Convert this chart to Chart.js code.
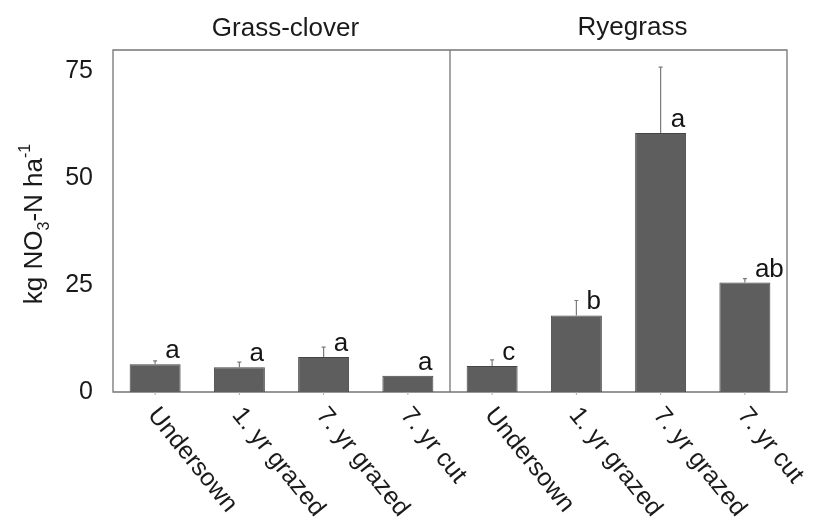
<!DOCTYPE html>
<html>
<head>
<meta charset="utf-8">
<script src="https://cdn.jsdelivr.net/npm/chart.js@4/dist/chart.umd.min.js"></script>
<style>
  html, body { margin: 0; padding: 0; background: #fff; }
  #wrap { width: 816px; height: 526px; }
</style>
</head>
<body>
<div id="wrap"><canvas id="c" width="816" height="526"></canvas></div>
<script>
// Treatments, shown once per sward type
const treatments = ['Undersown', '1. yr grazed', '7. yr grazed', '7. yr cut'];
const panels = ['Grass-clover', 'Ryegrass'];

// Mean nitrate-N (kg NO3-N per ha) and standard errors
const grassClover = [6.5, 5.8, 8.2, 3.8];
const grassCloverErr = [0.8, 1.2, 2.3, 0];
const ryegrass = [6.1, 17.9, 60.6, 25.6];
const ryegrassErr = [1.4, 3.5, 15.4, 0.9];

// Significance letters
const grassCloverLetters = ['a', 'a', 'a', 'a'];
const ryegrassLetters = ['c', 'b', 'a', 'ab'];

// Y axis ticks
const yTicks = [0, 25, 50, 75];

const labels = treatments.concat(treatments);
const values = grassClover.concat(ryegrass);
const errors = grassCloverErr.concat(ryegrassErr);
const letters = grassCloverLetters.concat(ryegrassLetters);

const FONT = '"Liberation Sans", Arial, Helvetica, sans-serif';
const frameColor = '#757575';

const decorations = {
  id: 'decorations',
  beforeDatasetsDraw(chart) {
    const { ctx, chartArea: a, scales: { x } } = chart;
    const divX = (x.getPixelForValue(3) + x.getPixelForValue(4)) / 2;
    ctx.save();
    ctx.strokeStyle = frameColor;
    ctx.lineWidth = 1.3;
    ctx.beginPath();
    ctx.rect(a.left, a.top, a.right - a.left, a.bottom - a.top);
    ctx.moveTo(divX, a.top);
    ctx.lineTo(divX, a.bottom);
    ctx.stroke();
    // small tick marks under each bar
    ctx.lineWidth = 1;
    ctx.strokeStyle = '#aaa';
    for (let i = 0; i < labels.length; i++) {
      const px = x.getPixelForValue(i);
      ctx.beginPath();
      ctx.moveTo(px, a.bottom - 3);
      ctx.lineTo(px, a.bottom + 3);
      ctx.stroke();
    }
    ctx.restore();
  },
  afterDatasetsDraw(chart) {
    const { ctx, chartArea: a, scales: { x, y } } = chart;
    const divX = (x.getPixelForValue(3) + x.getPixelForValue(4)) / 2;
    ctx.save();

    // error bars
    ctx.strokeStyle = '#7a7a7a';
    ctx.lineWidth = 1.2;
    for (let i = 0; i < values.length; i++) {
      if (!errors[i]) continue;
      const px = x.getPixelForValue(i);
      const y0 = y.getPixelForValue(values[i]);
      const y1 = y.getPixelForValue(values[i] + errors[i]);
      ctx.beginPath();
      ctx.moveTo(px, y0);
      ctx.lineTo(px, y1);
      ctx.moveTo(px - 2, y1);
      ctx.lineTo(px + 2, y1);
      ctx.stroke();
    }

    // significance letters
    ctx.fillStyle = '#151515';
    ctx.font = '26px ' + FONT;
    ctx.textAlign = 'left';
    ctx.textBaseline = 'alphabetic';
    for (let i = 0; i < values.length; i++) {
      const px = x.getPixelForValue(i);
      const py = y.getPixelForValue(values[i]);
      ctx.fillText(letters[i], px + 10, py - 6);
    }

    // panel titles
    ctx.font = '26px ' + FONT;
    ctx.textAlign = 'center';
    ctx.fillStyle = '#1a1a1a';
    ctx.fillText(panels[0], (a.left + divX) / 2 + 4, 36);
    ctx.fillText(panels[1], (divX + a.right) / 2 + 14, 35);

    // rotated category labels
    ctx.font = '25px ' + FONT;
    ctx.textAlign = 'left';
    ctx.textBaseline = 'top';
    for (let i = 0; i < labels.length; i++) {
      const px = x.getPixelForValue(i);
      ctx.save();
      ctx.translate(px + 7, a.bottom + 11);
      ctx.rotate(51 * Math.PI / 180);
      ctx.fillText(labels[i], 0, 0);
      ctx.restore();
    }

    // y axis title: kg NO3-N ha-1
    ctx.save();
    ctx.translate(42, (a.top + a.bottom) / 2 + 3);
    ctx.rotate(-Math.PI / 2);
    ctx.textBaseline = 'alphabetic';
    ctx.textAlign = 'left';
    const big = '26px ' + FONT, small = '16px ' + FONT;
    const parts = [
      { t: 'kg NO', f: big, dy: 0 },
      { t: '3', f: small, dy: 7 },
      { t: '-N ha', f: big, dy: 0 },
      { t: '-1', f: small, dy: -12 }
    ];
    let total = 0;
    parts.forEach(p => { ctx.font = p.f; p.w = ctx.measureText(p.t).width; total += p.w; });
    let cx = -total / 2;
    parts.forEach(p => { ctx.font = p.f; ctx.fillText(p.t, cx, p.dy); cx += p.w; });
    ctx.restore();

    ctx.restore();
  }
};

new Chart(document.getElementById('c'), {
  type: 'bar',
  data: {
    labels: labels,
    datasets: [{
      data: values,
      backgroundColor: '#5e5e5e',
      borderColor: '#454545',
      borderWidth: 1,
      barPercentage: 0.605,
      categoryPercentage: 1
    }]
  },
  options: {
    responsive: false,
    animation: false,
    devicePixelRatio: 1,
    layout: { padding: { left: 0, right: 29, top: 50, bottom: 0 } },
    plugins: { legend: { display: false }, tooltip: { enabled: false } },
    scales: {
      x: {
        ticks: { display: false },
        grid: { display: false },
        border: { display: false },
        afterFit(scale) { scale.height = 134; }
      },
      y: {
        min: 0,
        max: 80,
        afterBuildTicks(scale) { scale.ticks = yTicks.map(v => ({ value: v })); },
        ticks: {
          color: '#1a1a1a',
          padding: 12,
          font: { family: FONT, size: 25 }
        },
        grid: { display: false },
        border: { display: false },
        afterFit(scale) { scale.width = 113; }
      }
    }
  },
  plugins: [decorations]
});
</script>
</body>
</html>
